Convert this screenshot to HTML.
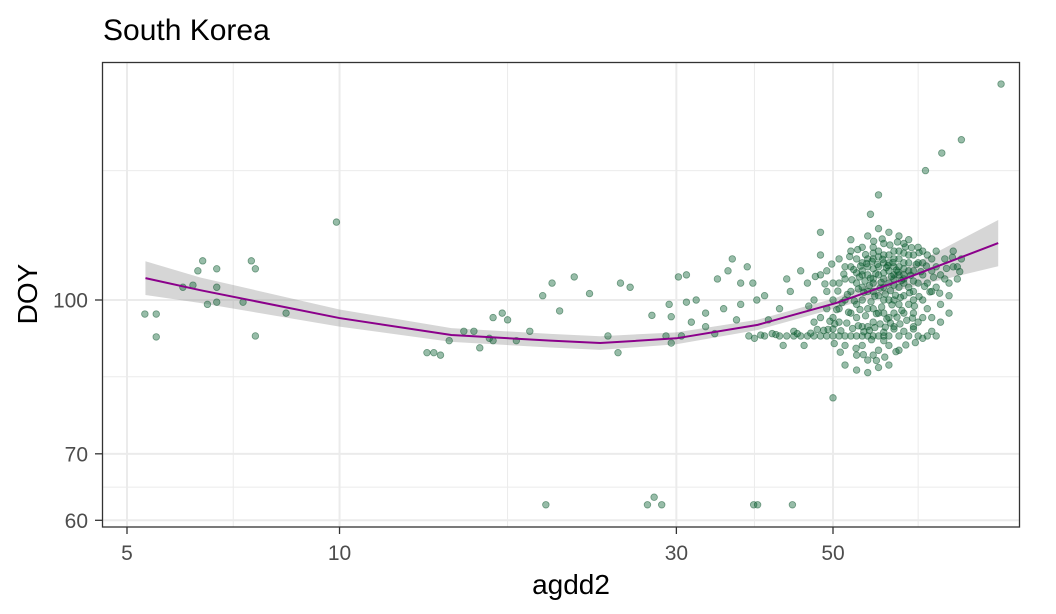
<!DOCTYPE html>
<html><head><meta charset="utf-8"><style>
body{margin:0;background:#fff;}
svg{display:block;font-family:"Liberation Sans",Arial,sans-serif;}
</style></head><body>
<svg id="chart" width="1056" height="614">
<text x="103" y="40" font-size="30" fill="#000">South Korea</text>
<g id="grid"></g>
<g id="ribbon"></g>
<g id="points"></g>
<g id="line"></g>
<rect x="102.5" y="62.5" width="917" height="464.5" fill="none" stroke="#333" stroke-width="1.3"/>
<g id="axes"></g>
<text x="571" y="594" font-size="28" text-anchor="middle" fill="#000">agdd2</text>
<text transform="translate(37,294) rotate(-90)" font-size="28" text-anchor="middle" fill="#000">DOY</text>
</svg>
<script>
const xTicks=[5,10,30,50];
const xTickLabels=["5","10","30","50"];
const xMinor=[7.07,17.3,38.7,66];
const yTicks=[60,70,100];
const yTickLabels=["60","70","100"];
const yMinor=[64.8,83.7,135];
const lineX=[5.31,6.35,10,14.4,19.9,23.4,30,39.1,50.5,62.4,85.7];
const lineY=[105.2,102.3,95.9,92.2,91.0,90.5,91.5,94.4,99.3,104.7,114.1];
const seFactor=[1.040,1.030,1.020,1.016,1.016,1.016,1.014,1.012,1.012,1.022,1.055];
const pts=[[5.3,96.8],[5.5,96.8],[5.5,91.8],[6.0,103],[6.2,103.5],[6.3,107],[6.4,109.5],[6.5,99],[6.7,107.5],[6.7,103],[6.7,99.5],[7.3,99.5],[7.5,109.5],[7.6,107.5],[7.6,92],[8.4,97],[9.9,119.8],
[13.3,88.5],[13.6,88.5],[13.9,88],[14.3,91],[15,93],[15.5,93],[15.8,89.5],[16.3,91.5],[16.5,96],[16.5,91],[17,97],[17.3,95.5],[17.8,91],[18.6,93],[19.4,101],[20,104],[20.5,97.5],[21.5,105.5],[22.6,101.5],[24,92],[24.8,88.5],[25,104],[25.8,103],[27.7,96.5],[29,92],[29.3,99],[29.5,96.2],[29.5,90.5],[30.2,105.5],[30.5,92],[31,99.5],[31,106],[31.5,95],[32,100],[33,97],[33,94],[34,92.5],[34.3,105],[35,98],[35.5,107],[36,110],[36.5,95.5],[37,99],[37,104],[37.8,108],[38.5,104],[38.7,91.5],[39,100],[40,101],[40.5,95.5],[41,92.5],[42,98],[42.5,90],[43,105],[43.5,102],[44,93],[45,107],[45.5,90],[46,104],[47,95],[48,111],[49,107],
[19.6,62.2],[27.3,62.2],[27.9,63.3],[28.6,62.2],[38.6,62.2],[39.1,62.2],[43.8,62.2],
[86.5,165],[71.3,140.6],[76,145],[67.6,135],[58,127.6],[48,117],[56.5,122],[50,79.7],
[48,92],[49,92],[50,92],[51,92],[52,92],[53,92],[54,92],[55,92],[56,92],[57,92],[58,92],[59,92],[60,92],[62,92],[64,92],[66,92],[68,92],[70,92],[42,92],[43,92],[44,92],[45,92],[46,92],[47,92],[40,92],[38,92],
[50,96],[51,98],[52,100],[53,102],[54,104],[55,106],[56,108],[57,110],[58,112],[59,114],[60,109],[61,105],[62,103],[63,101],[64,99],[65,97],[66,95],[67,100],[68,104],[69,107],[70,103],[71,99],[72,105],[73,101],[74,108],[51,104],[52,108],[53,112],[54,96],[55,94],[56,98],[57,102],[58,106],[59,100],[60,96],[61,94],[62,110],[63,114],[64,107],[65,111],[66,104],[67,109],[68,98],[69,96],[70,112],[52,90],[54,88],[56,87],[58,89],[60,86],[55,90],[57,95],[59,97],[61,100],[63,106],[65,102],[67,106],[53,115],[56,116],[58,118],[60,117],[62,116],[64,115],[55,113],[57,105],[59,103],[61,108],[63,97],[65,94],[50,100],[50,104],[49,98],[49,102],[48,96],[48,106],[47,100],[51,110],[53,108],[55,100],[57,98],[59,92.8],[61,93.5],[63,93],[65,93.5],[58,101],[60,104],[62,99],[64,103],[66,109],[68,111],[70,108],[72,110],[74,112],[76,110],[75,105],[73,97],[71,95],[69,93],[67,91.5],[54,99],[56,102],[58,97],[60,100],[62,106],[64,111],[66,113],[56,94],[54,110],[52,105],[51,95],[50,93.5],[53,97],[55,103],[57,113],[59,109],[61,112],[63,104],[65,100],[67,96],[69,102],[71,106],[73,104],[75,108],[60,90],[62,89],[58,85.5],[56,84.5],[54,85],[52,86],[57,88],[59,91],[61,97],[63,109],[65,107],[67,112],[69,110],
[55,107],[56,106],[57,107.5],[58,108],[59,106.5],[60,107],[61,106],[62,108],[63,107.5],[56,110],[58,110.5],[60,111],[62,112],[64,109],[57,104],[59,105],[61,103.5],[63,105],[65,104.5],[54,106.5],[55,109],[57,111.5],[59,111],[61,110],[63,111.5],
[54.5,105.5],[55.5,104.5],[56.5,105.2],[57.5,106.3],[58.5,104.2],[59.5,107.8],[60.5,105.6],[61.5,107.2],[62.5,104.6],[53.5,107.3],[54.7,108.2],[55.8,108.8],[56.8,109.4],[57.8,108.6],[58.8,109.9],[59.8,108.3],[60.8,109.1],[61.8,106.7],[53.2,104.8],[54.3,102.6],[55.3,101.8],[56.3,103.4],[57.3,100.9],[58.3,102.8],[59.3,101.4],[60.3,102.2],[61.3,101.1],[62.3,100.6],[52.4,101.3],[51.5,99.4],[52.6,97.2],[53.6,99.8],[54.6,97.8],[55.6,96.4],[56.6,99.6],[57.6,96.9],[58.6,98.4],[59.6,95.7],[60.6,98.9],[61.6,96.1],[62.6,97.6],[50.6,97.8],[49.5,95.2],[50.3,94.6],[51.3,93.1],[52.3,94.8],[53.3,93.6],[54.3,94.2],[55.3,92.9],[56.3,93.2],[57.3,93.8],[58.3,94.6],[59.3,93.9],[60.3,94.8],[49.2,93.4],[48.5,93.2],[47.5,93.4],[46.5,92.6],[44.5,92.5],[41.5,92.3],[39.5,92.2],[52.8,110.6],[54.2,112.4],[55.6,111.1],[57.1,114.6],[58.7,115.2],[60.2,113.6],[61.7,114.4],[63.3,113.1],[64.6,112.9],[66.2,111.6],[67.8,108.2],[69.4,105.4],[70.8,101.6],[72.4,107.6],[73.8,110.4],[75.6,106.8],[64.4,105.9],[65.6,108.6],[66.6,106.8],[67.4,103.2],[68.6,101.9],[64.2,101.7],[65.2,98.6],[66.2,100.8],[63.6,95.4],[62.2,94.6],[64.8,95.9],[51.8,106.2],[50.8,102.1],[49.8,108.7],[48.7,103.8],[47.2,105.6],[46.2,98.6],[53.9,89.4],[55.2,88.1],[57.6,86.9],[59.2,87.6],[61.4,88.7],[63.4,90.1],[65.4,90.6],[51.2,88.6],[50.2,90.4],[56.7,91.2]];
const NS="http://www.w3.org/2000/svg";
function sx(v){return 127+(Math.log10(v)-Math.log10(5))*706;}
function sy(v){return 300-(Math.log10(v)-2)*993;}
function mk(tag,attrs,parent){const e=document.createElementNS(NS,tag);for(const k in attrs)e.setAttribute(k,attrs[k]);parent.appendChild(e);return e;}
const grid=document.getElementById('grid');
xMinor.forEach(v=>{const l=mk('line',{x1:sx(v),x2:sx(v),y1:63,y2:527,stroke:'#ebebeb','stroke-width':1},grid);

});
yMinor.forEach(v=>{const l=mk('line',{x1:103,x2:1020,y1:sy(v),y2:sy(v),stroke:'#ebebeb','stroke-width':1},grid);

});
xTicks.forEach(v=>{const l=mk('line',{x1:sx(v),x2:sx(v),y1:63,y2:527,stroke:'#ebebeb','stroke-width':2},grid);

});
yTicks.forEach(v=>{const l=mk('line',{x1:103,x2:1020,y1:sy(v),y2:sy(v),stroke:'#ebebeb','stroke-width':2},grid);

});
let up=lineX.map((x,i)=>sx(x)+','+sy(lineY[i]*seFactor[i]));
let lo=lineX.map((x,i)=>sx(x)+','+sy(lineY[i]/seFactor[i])).reverse();
const rb=mk('polygon',{points:up.concat(lo).join(' '),fill:'#999','fill-opacity':0.4},document.getElementById('ribbon'));


const pg=document.getElementById('points');
pts.forEach(p=>{const c=mk('circle',{cx:sx(p[0]),cy:sy(p[1]),r:3.3,fill:'#07602f','fill-opacity':0.42,stroke:'#0a5229','stroke-opacity':0.5,'stroke-width':0.8},pg);

});
const ln=mk('path',{d:'M'+lineX.map((x,i)=>sx(x)+','+sy(lineY[i])).join(' L'),fill:'none',stroke:'#8b008b','stroke-width':2},document.getElementById('line'));


const ax=document.getElementById('axes');
xTicks.forEach((v,i)=>{const t=mk('line',{x1:sx(v),x2:sx(v),y1:527,y2:534,stroke:'#333','stroke-width':1.3},ax);


const tx=mk('text',{x:sx(v),y:560,'font-size':21,fill:'#4d4d4d','text-anchor':'middle'},ax);tx.textContent=xTickLabels[i];

});
yTicks.forEach((v,i)=>{const t=mk('line',{x1:95,x2:102,y1:sy(v),y2:sy(v),stroke:'#333','stroke-width':1.3},ax);


const tx=mk('text',{x:88,y:sy(v)+7.5,'font-size':21,fill:'#4d4d4d','text-anchor':'end'},ax);tx.textContent=yTickLabels[i];

});
</script>
</body></html>
